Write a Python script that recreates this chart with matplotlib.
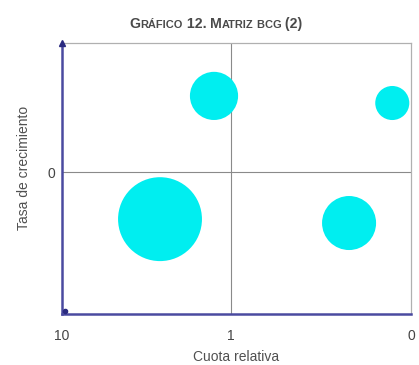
import matplotlib
matplotlib.use("Agg")
import matplotlib.pyplot as plt
import numpy as np

plt.rcParams["font.family"] = ["Liberation Sans", "DejaVu Sans"]

# data: BCG matrix units
cuota_relativa = [1.26, 0.111, 2.63, 0.20]
tasa_crecimiento = [11.8, 10.7, -7.3, -7.9]
ventas = [5.8, 2.9, 17.6, 7.3]

x_ticks = [10, 1, 0.086]
x_ticklabels = ["10", "1", "0"]
y_ticks = [0]
y_ticklabels = ["0"]

W, H = 419, 365
fig = plt.figure(figsize=(W / 100, H / 100), dpi=100)
ax = fig.add_axes([62 / W, 1 - 314 / H, 349 / W, 271 / H])

# bubble area proportional to sales (points^2)
sizes = [v * 100 * (0.72 ** 2) * 4 for v in ventas]
ax.scatter(cuota_relativa, tasa_crecimiento, s=sizes, color="#00eef0",
           edgecolors="none", zorder=3)

ax.set_xscale("log")
ax.set_xlim(10, 0.086)
ax.set_ylim(-22, 20)
ax.axvline(1, color="#8a8a8a", lw=0.8, zorder=1)
ax.axhline(0, color="#8a8a8a", lw=0.8, zorder=1)

ax.set_xticks(x_ticks)
ax.set_xticklabels(x_ticklabels)
ax.xaxis.set_minor_locator(plt.NullLocator())
ax.set_yticks(y_ticks)
ax.set_yticklabels(y_ticklabels)
ax.tick_params(length=0, labelsize=10, colors="#444444")
ax.tick_params(axis="x", pad=11)
ax.tick_params(axis="y", pad=5)

for side in ("top", "right"):
    ax.spines[side].set_color("#b0b0b0")
    ax.spines[side].set_linewidth(0.9)
for side in ("left", "bottom"):
    ax.spines[side].set_color("#4a4aa0")
    ax.spines[side].set_linewidth(1.8)

# arrow on top of y axis, dot at origin corner
ax.plot([0], [1], marker="^", color="#2a2a80", ms=4, transform=ax.transAxes,
        clip_on=False, zorder=5)
ax.plot([0.01], [0.01], marker="o", color="#2a2a80", ms=3,
        transform=ax.transAxes, clip_on=False, zorder=5)

ax.set_xlabel("Cuota relativa", fontsize=10, color="#505050", labelpad=5)
ax.set_ylabel("Tasa de crecimiento", fontsize=10, color="#505050")
ax.yaxis.set_label_coords(-0.088, 0.54)

# small-caps style title
fig.canvas.draw()
renderer = fig.canvas.get_renderer()
pieces = [("G", 10.2), ("RÁFICO", 7.9), (" 12. ", 10.2), ("M", 10.2),
          ("ATRIZ", 7.9), (" BCG", 7.9), (" (2)", 10.2)]
texts = []
for s, fs in pieces:
    t = fig.text(0, 0, s, fontsize=fs, fontweight="bold", color="#4a4a4a",
                 va="baseline", ha="left")
    texts.append(t)
widths = [t.get_window_extent(renderer).width for t in texts]
total = sum(widths)
x0 = 216 - total / 2
for t, w in zip(texts, widths):
    t.set_position((x0 / W, 1 - 28 / H))
    x0 += w

fig.savefig("out.png", dpi=100)
